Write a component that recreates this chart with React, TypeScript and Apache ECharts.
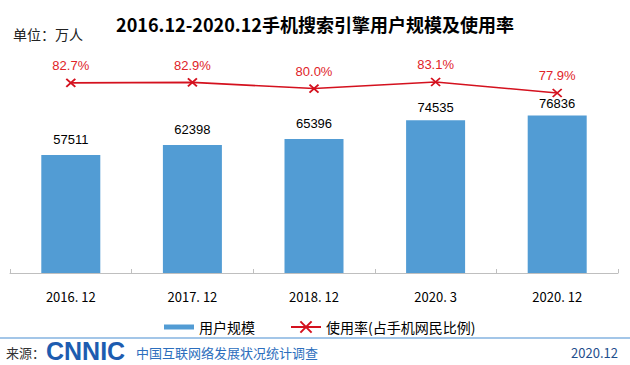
import React, { useEffect, useRef } from "react";
import * as echarts from "echarts";

const categories = ["2016. 12", "2017. 12", "2018. 12", "2020. 3", "2020. 12"];
const userScale = [57511, 62398, 65396, 74535, 76836];
const usageRate = [82.7, 82.9, 80.0, 83.1, 77.9];

const seriesNames = ["用户规模", "使用率(占手机网民比例)"];
const titleText = "2016.12-2020.12手机搜索引擎用户规模及使用率";
const unitText = "单位：万人";
const sourceLabel = "来源：";
const sourceLogo = "CNNIC";
const sourceName = "中国互联网络发展状况统计调查";
const sourceDate = "2020.12";

// label offsets above each bar (style, not data)
const barLabelGap = [9, 9, 9, 6, 5];

const BAR = "#529cd4";
const RED = "#d4111e";
const RED_LABEL = "#e02328";
const CJK = '"Noto Sans CJK SC", "Noto Sans", sans-serif';
const LAT = '"Liberation Sans", Arial, sans-serif';

export default function App() {
  const ref = useRef<HTMLDivElement>(null);
  useEffect(() => {
    if (!ref.current) return;
    const chart = echarts.init(ref.current, undefined, { renderer: "svg" });
    chart.setOption({
      animation: false,
      backgroundColor: "#ffffff",
      title: {
        text: titleText,
        left: "center",
        top: 10,
        textStyle: { fontSize: 18, fontWeight: "bold", color: "#000", fontFamily: CJK },
      },
      legend: {
        left: 159,
        top: 315,
        itemWidth: 30,
        itemHeight: 14,
        itemGap: 35,
        textStyle: { fontSize: 14, color: "#000", fontFamily: CJK },
        data: [
          { name: seriesNames[0], icon: "path://M0,0h30v5h-30z" },
          { name: seriesNames[1] },
        ],
      },
      grid: { left: 10, right: 12, top: 27, bottom: 92, containLabel: false },
      xAxis: {
        type: "category",
        data: categories,
        boundaryGap: true,
        axisLine: { show: true, lineStyle: { color: "#bfbfbf", width: 1 } },
        axisTick: { show: true, inside: true, length: 4, lineStyle: { color: "#bfbfbf" } },
        axisLabel: { color: "#000", fontSize: 13, fontFamily: CJK, margin: 17 },
        splitLine: { show: false },
      },
      yAxis: [
        { type: "value", min: 0, max: 120000, show: false, splitLine: { show: false } },
        { type: "value", min: -7.2, max: 109.1, show: false, splitLine: { show: false } },
      ],
      series: [
        {
          name: seriesNames[0],
          type: "bar",
          data: userScale.map((v, i) => ({ value: v, label: { distance: barLabelGap[i] } })),
          barWidth: 59,
          itemStyle: { color: BAR },
          label: {
            show: true,
            position: "top",
            distance: 9,
            color: "#000",
            fontSize: 13,
            fontFamily: LAT,
          },
        },
        {
          name: seriesNames[1],
          type: "line",
          yAxisIndex: 1,
          data: usageRate,
          symbol: "path://M0,0L10,10M10,0L0,10",
          symbolSize: [9, 8],
          itemStyle: { color: RED, borderColor: RED, borderWidth: 1.8 },
          lineStyle: { color: RED, width: 1.6 },
          label: {
            show: true,
            position: "top",
            distance: 6,
            color: RED_LABEL,
            fontSize: 13,
            fontFamily: LAT,
            formatter: (p: any) => Number(p.value).toFixed(1) + "%",
          },
          z: 3,
        },
      ],
      graphic: [
        {
          type: "text",
          x: 13,
          y: 34,
          style: {
            text: unitText,
            fill: "#222",
            font: `14px ${CJK}`,
            textVerticalAlign: "middle",
          },
        },
        {
          type: "line",
          shape: { x1: 0, y1: 338, x2: 630, y2: 338 },
          style: { stroke: "#a3c6e8", lineWidth: 2 },
        },
        {
          type: "text",
          x: 6,
          y: 352,
          style: {
            text: sourceLabel,
            fill: "#333",
            font: `13px ${CJK}`,
            textVerticalAlign: "middle",
          },
        },
        {
          type: "text",
          x: 46,
          y: 351,
          style: {
            text: sourceLogo,
            fill: "#1d5cb0",
            font: `bold 25px ${LAT}`,
            lineHeight: 24,
            textVerticalAlign: "middle",
          },
        },
        {
          type: "text",
          x: 136,
          y: 352,
          style: {
            text: sourceName,
            fill: "#2c6ebd",
            font: `13px ${CJK}`,
            textVerticalAlign: "middle",
          },
        },
        {
          type: "text",
          x: 618,
          y: 352,
          style: {
            text: sourceDate,
            fill: "#1f4e8c",
            font: `13px ${CJK}`,
            textAlign: "right",
            textVerticalAlign: "middle",
          },
        },
      ],
    });
    return () => chart.dispose();
  }, []);
  return (
    <div
      ref={ref}
      style={{ position: "fixed", left: 0, top: 0, width: 630, height: 365, background: "#fff" }}
    />
  );
}
